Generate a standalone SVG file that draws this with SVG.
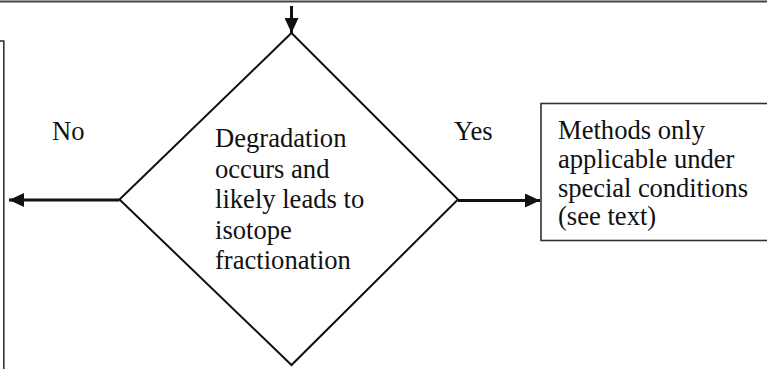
<svg xmlns="http://www.w3.org/2000/svg" width="767" height="369" viewBox="0 0 767 369">
<style>
.box{fill:#fff;stroke:#333;stroke-width:1.6}
.dia{fill:#fff;stroke:#111;stroke-width:2}
.t{font-family:'Times New Roman',Tinos,'Liberation Serif',serif;font-size:26.6px;fill:#111}
.edge{stroke:#111;stroke-width:3;fill:none}
</style>
<defs>
<marker id="ah" markerUnits="userSpaceOnUse" markerWidth="16" markerHeight="14" refX="15" refY="7" orient="auto">
<path d="M0,0 L15,7 L0,14 Z" fill="#111"/>
</marker>
</defs>
<rect width="767" height="369" fill="#fff"/>
<g id="top-border"><line x1="0" y1="1.5" x2="767" y2="1.5" stroke="#444" stroke-width="2.2"/></g>
<g id="left-box"><rect class="box" x="-20" y="41" width="23.8" height="340"/></g>
<g id="decision">
<polygon class="dia" points="291.5,33 458,199.5 291.5,365 119.5,199.5"/>
<text class="t"><tspan x="215" y="147">Degradation</tspan><tspan x="215" y="177.5">occurs and</tspan><tspan x="215" y="208">likely leads to</tspan><tspan x="215" y="238.5">isotope</tspan><tspan x="215" y="269">fractionation</tspan></text>
</g>
<g id="right-box">
<rect class="box" x="541" y="103.5" width="240" height="137"/>
<text class="t"><tspan x="558" y="138.5">Methods only</tspan><tspan x="558" y="167.5">applicable under</tspan><tspan x="558" y="196.5" textLength="190" lengthAdjust="spacing">special conditions</tspan><tspan x="558" y="225">(see text)</tspan></text>
</g>
<g id="connectors">
<line class="edge" x1="291.5" y1="6" x2="291.5" y2="33" marker-end="url(#ah)"/>
<line class="edge" x1="119.5" y1="200" x2="9" y2="200" marker-end="url(#ah)"/>
<line class="edge" x1="458" y1="200.5" x2="540" y2="200.5" marker-end="url(#ah)"/>
<text class="t" x="52" y="140">No</text>
<text class="t" x="454" y="140">Yes</text>
</g>
</svg>
